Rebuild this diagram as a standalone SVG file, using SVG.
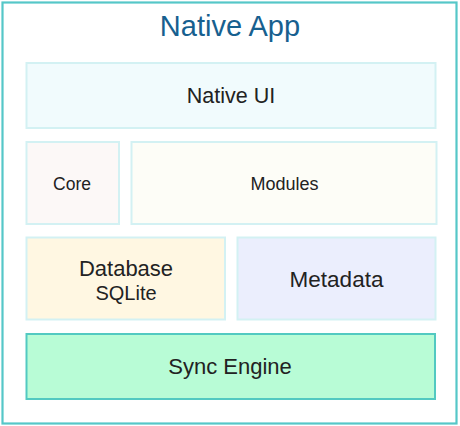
<svg xmlns="http://www.w3.org/2000/svg" width="460" height="426" viewBox="0 0 460 426">
<style>
.t{font-family:"Liberation Sans",Arial,Helvetica,sans-serif;fill:#222;text-anchor:middle}
.box{stroke:#d3f1f3;stroke-width:2}
</style>
<rect x="0" y="0" width="460" height="426" fill="#ffffff"/>
<g id="native-app">
<rect x="2.5" y="2.5" width="454" height="421" fill="#ffffff" stroke="#55c7c8" stroke-width="2.2"/>
<text x="230" y="36" class="t" style="fill:#17608f;font-size:29px">Native App</text>
</g>
<g id="native-ui">
<rect x="26.5" y="63" width="409" height="65" class="box" fill="#f1fbfd"/>
<text x="231" y="102.5" class="t" font-size="21.5">Native UI</text>
</g>
<g id="core">
<rect x="26.5" y="142" width="92.5" height="82" class="box" fill="#fcf8f7"/>
<text x="72" y="190" class="t" font-size="17.5">Core</text>
</g>
<g id="modules">
<rect x="131.5" y="142" width="305" height="82" class="box" fill="#fdfdf7"/>
<text x="284.5" y="190" class="t" font-size="18">Modules</text>
</g>
<g id="database">
<rect x="26.5" y="237.5" width="198.5" height="82" class="box" fill="#fff7e2"/>
<text x="126" y="276" class="t" font-size="22">Database</text>
<text x="126" y="300" class="t" font-size="20">SQLite</text>
</g>
<g id="metadata">
<rect x="237.5" y="237.5" width="198" height="82" class="box" fill="#ebeefd"/>
<text x="336.5" y="286.5" class="t" font-size="22.5">Metadata</text>
</g>
<g id="sync-engine">
<rect x="26.5" y="334" width="408.5" height="65" fill="#b8fcd6" stroke="#52c9c1" stroke-width="2"/>
<text x="230" y="374" class="t" font-size="22">Sync Engine</text>
</g>
<g id="connectors"></g>
</svg>
